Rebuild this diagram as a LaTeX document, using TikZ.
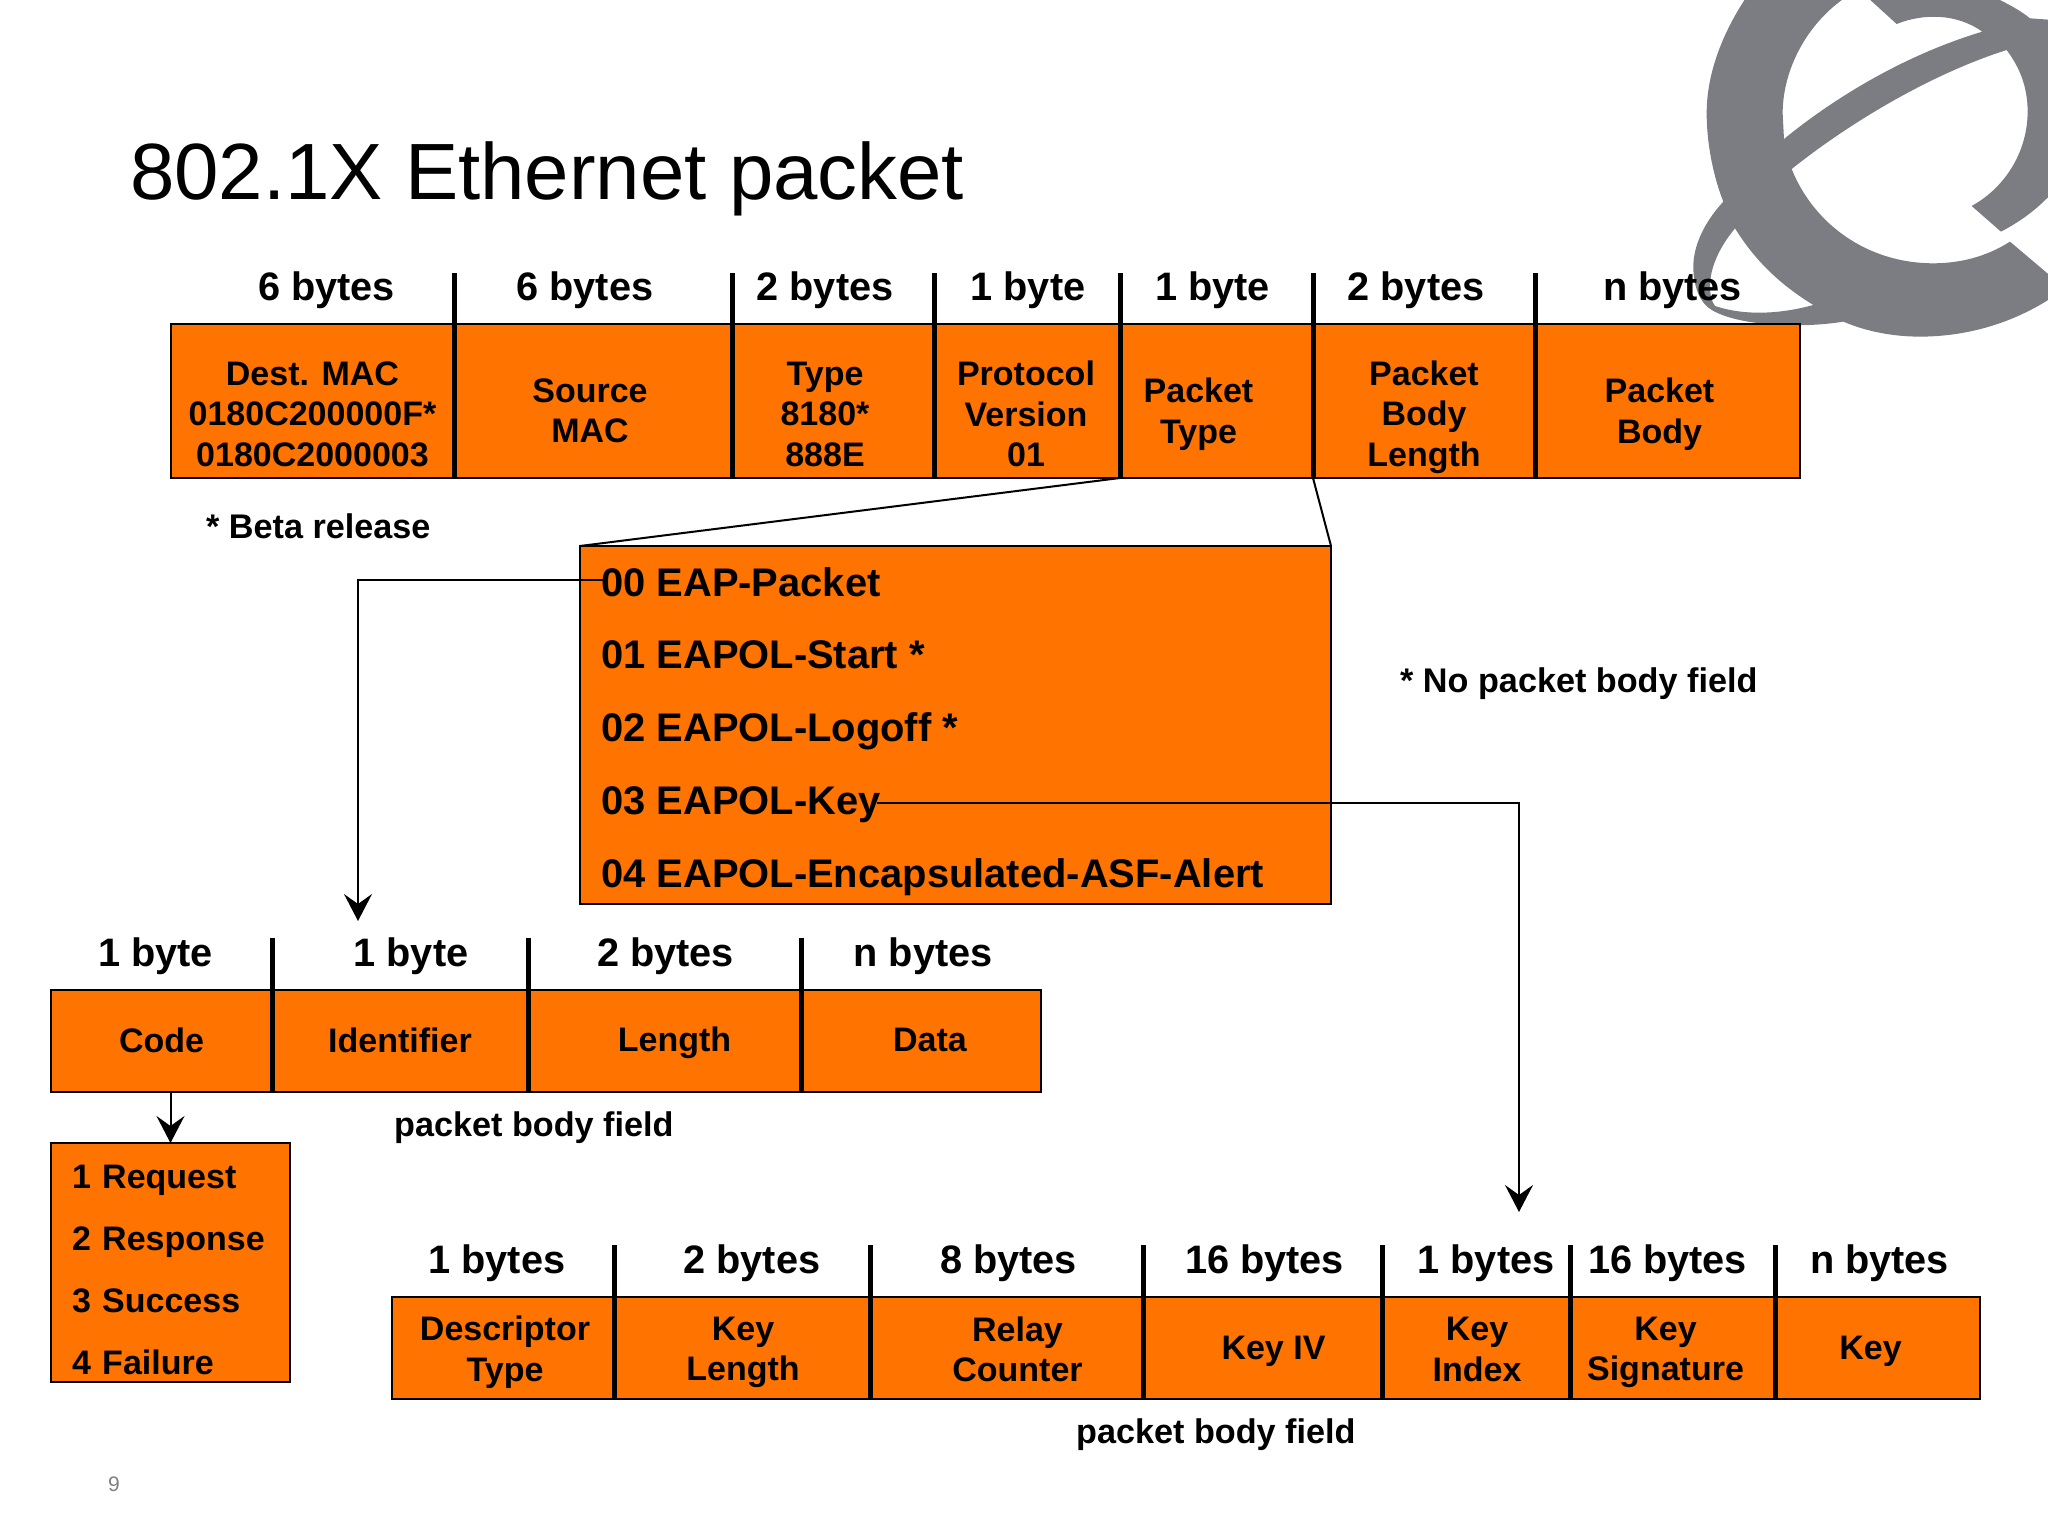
\documentclass[tikz,border=0pt]{standalone}
\usepackage{fontspec}
\setmainfont{Liberation Sans}
\usetikzlibrary{arrows.meta,positioning}
\definecolor{fieldorange}{HTML}{FF7300}
\definecolor{logogray}{HTML}{7B7D82}
\tikzset{
    fieldbox/.style={draw, fill=fieldorange, line width=2.5pt, inner sep=0pt, outer sep=0pt, align=center, font=\bfseries\fontsize{34}{40.5}\selectfont},
    tallfield/.style={fieldbox, minimum height=154pt},
    lowfield/.style={fieldbox, minimum height=102pt},
    fieldtext/.style={inner sep=0pt, align=center, font=\bfseries\fontsize{34}{40.5}\selectfont},
    sizelabel/.style={inner sep=0pt, font=\bfseries\fontsize{39.7}{48}\selectfont},
    fieldtick/.style={line width=5pt},
    listline/.style={inner sep=0pt, minimum height=72.5pt, text height=52.25pt, text depth=20.25pt, font=\bfseries\fontsize{39.9}{48}\selectfont},
    notetext/.style={inner sep=0pt, font=\bfseries\fontsize{34.2}{40}\selectfont},
    thinline/.style={line width=2pt},
    spear/.style={-{Stealth[length=27pt, width=28pt, inset=10pt]}, line width=2pt}
}

\begin{document}
\begin{tikzpicture}[x=1pt, y=-1pt]
        \useasboundingbox (0,0) rectangle (2048,1536);
        \begin{scope}
            \clip (0,0) rectangle (2048,1536);
            \begin{scope}[shift={(1600pt,0pt)}, x=0.3333pt, y=-0.3333pt]
                \fill[logogray, even odd rule]
                    (440,-10) .. controls (360,110) and (320,230) .. (320,340)
                    .. controls (320,430) and (340,530) .. (370,605)
                    .. controls (310,670) and (280,740) .. (280,800)
                    .. controls (280,860) and (300,910) .. (335,930)
                    .. controls (420,980) and (610,985) .. (730,965)
                    .. controls (800,995) and (880,1010) .. (960,1010)
                    .. controls (1100,1010) and (1240,970) .. (1360,890)
                    -- (1360,60) -- (1290,55)
                    .. controls (1260,30) and (1220,10) .. (1180,-10) -- cycle
                    (740,-10) .. controls (620,70) and (548,210) .. (548,340)
                    -- (552,417)
                    .. controls (720,280) and (930,160) .. (1147,95)
                    .. controls (1070,40) and (970,40) .. (890,72)
                    -- (800,-10) -- cycle
                    (575,507)
                    .. controls (760,360) and (1000,220) .. (1220,150)
                    .. controls (1265,210) and (1283,270) .. (1283,335)
                    .. controls (1283,450) and (1220,560) .. (1115,618)
                    -- (1203,695)
                    .. controls (1260,665) and (1310,630) .. (1360,575)
                    -- (1360,835) -- (1230,725)
                    .. controls (1160,770) and (1080,790) .. (1000,790)
                    .. controls (800,790) and (640,670) .. (575,507) -- cycle
                    (405,685)
                    .. controls (360,740) and (330,800) .. (330,860)
                    .. controls (330,885) and (335,905) .. (345,918)
                    .. controls (440,950) and (550,940) .. (640,915)
                    .. controls (550,860) and (470,790) .. (405,685) -- cycle;
            \end{scope}
        \end{scope}
        \node[anchor=base west, inner sep=0pt, font=\fontsize{79.8}{90}\selectfont] (title) at (130,199) {802.1X Ethernet packet};
        % top row
        \node[tallfield, minimum width=283pt, anchor=north west, label={[fieldtext, name=desttext, yshift=-13pt]center:Dest. MAC\\0180C200000F*\\0180C2000003}] (dest) at (171,324) {};
        \node[tallfield, minimum width=278pt, right=0pt of dest, label={[fieldtext, name=sourcetext, xshift=-3pt, yshift=-10pt]center:Source\\MAC}] (source) {};
        \node[tallfield, minimum width=202pt, right=0pt of source, label={[fieldtext, name=ethtypetext, xshift=-8pt, yshift=-13pt]center:Type\\8180*\\888E}] (ethtype) {};
        \node[tallfield, minimum width=186pt, right=0pt of ethtype, label={[fieldtext, name=versiontext, xshift=-1pt, yshift=-13pt]center:Protocol\\Version\\01}] (version) {};
        \node[tallfield, minimum width=193pt, right=0pt of version, label={[fieldtext, name=ptypetext, xshift=-18pt, yshift=-13pt]center:Packet\\Type}] (ptype) {};
        \node[tallfield, minimum width=222pt, right=0pt of ptype, label={[fieldtext, name=bodylentext, yshift=-16pt]center:Packet\\Body\\Length}] (bodylen) {};
        \node[tallfield, minimum width=265pt, right=0pt of bodylen, label={[fieldtext, name=bodytext, xshift=-8pt, yshift=-13pt]center:Packet\\Body}] (body) {};
        \node[sizelabel, above=15pt of dest.north, xshift=14pt] (destsize) {6 bytes};
        \node[sizelabel, above=15pt of source.north, xshift=-8pt] (sourcesize) {6 bytes};
        \node[sizelabel, above=15pt of ethtype.north, xshift=-8pt] (ethtypesize) {2 bytes};
        \node[sizelabel, above=15pt of version.north, xshift=1pt] (versionsize) {1 byte};
        \node[sizelabel, above=15pt of ptype.north, xshift=-4pt] (ptypesize) {1 byte};
        \node[sizelabel, above=15pt of bodylen.north, xshift=-8pt] (bodylensize) {2 bytes};
        \node[sizelabel, above=15pt of body.north, xshift=5pt] (bodysize) {n bytes};
        \draw[fieldtick] (dest.south east) -- ([yshift=51pt]dest.north east);
        \draw[fieldtick] (source.south east) -- ([yshift=51pt]source.north east);
        \draw[fieldtick] (ethtype.south east) -- ([yshift=51pt]ethtype.north east);
        \draw[fieldtick] (version.south east) -- ([yshift=51pt]version.north east);
        \draw[fieldtick] (ptype.south east) -- ([yshift=51pt]ptype.north east);
        \draw[fieldtick] (bodylen.south east) -- ([yshift=51pt]bodylen.north east);
        \node[notetext, anchor=west] (betanote) at (206,526) {* Beta release};
        % packet type list
        \node[fieldbox, minimum width=751pt, minimum height=358pt, anchor=north west] (typebox) at (580,546) {};
        \node[listline, anchor=west] (eappacket) at (601,580) {00 EAP-Packet};
        \node[listline, below=0pt of eappacket.south west, anchor=north west] (eapolstart) {01 EAPOL-Start *};
        \node[listline, below=0pt of eapolstart.south west, anchor=north west] (eapollogoff) {02 EAPOL-Logoff *};
        \node[listline, below=0pt of eapollogoff.south west, anchor=north west] (eapolkey) {03 EAPOL-Key};
        \node[listline, below=0pt of eapolkey.south west, anchor=north west] (eapolasf) {04 EAPOL-Encapsulated-ASF-Alert};
        \draw[thinline] (ptype.south west) -- (typebox.north west);
        \draw[thinline] (ptype.south east) -- (typebox.north east);
        \node[notetext, anchor=west] (nobodynote) at (1400,684) {* No packet body field};
        % eap packet body
        \node[lowfield, minimum width=221pt, text depth=2.5pt, anchor=north west] (code) at (51,990) {Code};
        \node[lowfield, minimum width=256pt, text depth=2.5pt, right=0pt of code] (identifier) {Identifier};
        \node[lowfield, minimum width=273pt, right=0pt of identifier, label={[fieldtext, name=lengthtext, xshift=10pt, yshift=-1.3pt]center:Length}] (length) {};
        \node[lowfield, minimum width=240pt, right=0pt of length, label={[fieldtext, name=datatext, xshift=9pt, yshift=1.3pt]center:Data}] (data) {};
        \node[sizelabel, above=15pt of code.north, xshift=-6pt] (codesize) {1 byte};
        \node[sizelabel, above=15pt of identifier.north, xshift=11pt] (identifiersize) {1 byte};
        \node[sizelabel, above=15pt of length.north, xshift=1pt] (lengthsize) {2 bytes};
        \node[sizelabel, above=15pt of data.north, xshift=2pt] (datasize) {n bytes};
        \draw[fieldtick] (code.south east) -- ([yshift=52pt]code.north east);
        \draw[fieldtick] (identifier.south east) -- ([yshift=52pt]identifier.north east);
        \draw[fieldtick] (length.south east) -- ([yshift=52pt]length.north east);
        \node[notetext, anchor=west] (eapnote) at (394,1128) {packet body field};
        \coordinate (eaptip) at (358,921);
        \draw[spear] ([xshift=6pt]eappacket.west) -| (eaptip);
        % code values
        \node[fieldbox, minimum width=239pt, minimum height=239pt, text width=197pt, text height=39pt, align=left, anchor=north west, font=\bfseries\fontsize{34}{62}\selectfont] (codelist) at (51,1143) {1 Request\\2 Response\\3 Success\\4 Failure};
        \draw[spear] (codelist.north |- code.south) -- (codelist.north);
        % eapol key body
        \node[lowfield, minimum width=222pt, anchor=north west, label={[fieldtext, name=descriptortext, xshift=2pt, yshift=-4pt]center:Descriptor\\Type}] (descriptor) at (392,1297) {};
        \node[lowfield, minimum width=256pt, right=0pt of descriptor, label={[fieldtext, name=keylentext, xshift=1pt, yshift=-4.5pt]center:Key\\Length}] (keylen) {};
        \node[lowfield, minimum width=273pt, right=0pt of keylen, label={[fieldtext, name=relaytext, xshift=11pt, yshift=-1.5pt]center:Relay\\Counter}] (relay) {};
        \node[lowfield, minimum width=239pt, right=0pt of relay, label={[fieldtext, name=keyivtext, xshift=11pt, yshift=-3pt]center:Key IV}] (keyiv) {};
        \node[lowfield, minimum width=188pt, right=0pt of keyiv, label={[fieldtext, name=keyindextext, xshift=1pt, yshift=-1.5pt]center:Key\\Index}] (keyindex) {};
        \node[lowfield, minimum width=205pt, right=0pt of keyindex, label={[fieldtext, name=keysigtext, xshift=-7pt, yshift=-4.5pt]center:Key\\Signature}] (keysig) {};
        \node[lowfield, minimum width=205pt, right=0pt of keysig, label={[fieldtext, name=keyvaltext, xshift=-7pt, yshift=-3pt]center:Key}] (keyval) {};
        \node[sizelabel, above=15pt of descriptor.north, xshift=-6pt] (descriptorsize) {1 bytes};
        \node[sizelabel, above=15pt of keylen.north, xshift=10pt] (keylensize) {2 bytes};
        \node[sizelabel, above=15pt of relay.north, xshift=2pt] (relaysize) {8 bytes};
        \node[sizelabel, above=15pt of keyiv.north, xshift=2pt] (keyivsize) {16 bytes};
        \node[sizelabel, above=15pt of keyindex.north, xshift=10pt] (keyindexsize) {1 bytes};
        \node[sizelabel, above=15pt of keysig.north, xshift=-5pt] (keysigsize) {16 bytes};
        \node[sizelabel, above=15pt of keyval.north, xshift=2pt] (keyvalsize) {n bytes};
        \draw[fieldtick] (descriptor.south east) -- ([yshift=52pt]descriptor.north east);
        \draw[fieldtick] (keylen.south east) -- ([yshift=52pt]keylen.north east);
        \draw[fieldtick] (relay.south east) -- ([yshift=52pt]relay.north east);
        \draw[fieldtick] (keyiv.south east) -- ([yshift=52pt]keyiv.north east);
        \draw[fieldtick] (keyindex.south east) -- ([yshift=52pt]keyindex.north east);
        \draw[fieldtick] (keysig.south east) -- ([yshift=52pt]keysig.north east);
        \node[notetext, anchor=west] (keynote) at (1076,1435) {packet body field};
        \coordinate (keytip) at (1519,1212);
        \draw[spear] ([xshift=-4pt, yshift=-4pt]eapolkey.east) -| (keytip);
        \node[text=gray, inner sep=0pt, font=\fontsize{21}{25}\selectfont] (pagenum) at (114,1484) {9};
    \end{tikzpicture}
\end{document}
